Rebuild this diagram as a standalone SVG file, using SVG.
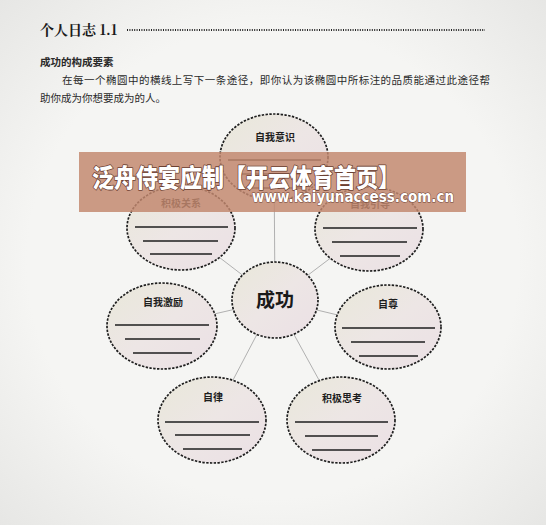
<svg xmlns="http://www.w3.org/2000/svg" width="546" height="525" viewBox="0 0 546 525">
<defs>
<linearGradient id="fillG" x1="0" y1="0" x2="1" y2="1">
<stop offset="0" stop-color="#e9e8da"/>
<stop offset="0.5" stop-color="#ede6e5"/>
<stop offset="1" stop-color="#ebe0e5"/>
</linearGradient>
<radialGradient id="bg" cx="0.5" cy="0.5" r="0.75">
<stop offset="0.6" stop-color="#f5f5f3"/>
<stop offset="1" stop-color="#e4e4e2"/>
</radialGradient>
</defs>
<style>
.ell{fill:url(#fillG);stroke:#1e1e1e;stroke-width:1.7;stroke-dasharray:2.4 1.4}
.wl{stroke:#1e1e1e;stroke-width:1.5}
.lab{font-family:"Noto Sans CJK SC","Noto Sans",sans-serif;font-size:10px;font-weight:bold;fill:#1e1e1e;text-anchor:middle}
.body{font-family:"Noto Sans CJK SC","Noto Sans",sans-serif;font-size:10.5px;fill:#2a2a2a}
.conn{stroke:#a8a8a8;stroke-width:0.9;fill:none}
.ban{fill:#ffffff;stroke:#6b4032;paint-order:stroke;stroke-linejoin:round}
</style>
<rect width="546" height="525" fill="url(#bg)"/>
<g id="header">
<text x="40" y="35" font-family="'Noto Serif CJK SC','Liberation Serif','Noto Sans CJK SC',serif" font-size="14" font-weight="bold" fill="#1a1a1a">个人日志 1.1</text>
<line x1="127" y1="30" x2="485" y2="30" stroke="#222" stroke-width="2" stroke-dasharray="1 1.4"/>
<text x="40" y="66" class="body" font-weight="bold" fill="#1a1a1a">成功的构成要素</text>
<text x="62" y="84" class="body" textLength="428" lengthAdjust="spacing">在每一个椭圆中的横线上写下一条途径，即你认为该椭圆中所标注的品质能通过此途径帮</text>
<text x="40" y="102" class="body">助你成为你想要成为的人。</text>
</g>
<g id="connectors">
<line class="conn" x1="275" y1="300" x2="274" y2="157"/>
<line class="conn" x1="275" y1="300" x2="181" y2="228"/>
<line class="conn" x1="275" y1="300" x2="369" y2="229"/>
<line class="conn" x1="275" y1="300" x2="162" y2="326"/>
<line class="conn" x1="275" y1="300" x2="388" y2="327"/>
<line class="conn" x1="275" y1="300" x2="212" y2="420"/>
<line class="conn" x1="275" y1="300" x2="341" y2="420"/>
</g>
<g id="n-ziwoyishi">
<ellipse class="ell" cx="274" cy="157" rx="54" ry="43"/>
<text class="lab" x="275" y="141">自我意识</text>
<line class="wl" x1="228" y1="160" x2="321" y2="160"/>
<line class="wl" x1="238" y1="174" x2="311" y2="174"/>
<line class="wl" x1="245" y1="188" x2="304" y2="188"/>
</g>
<g id="n-jijiguanxi">
<ellipse class="ell" cx="181" cy="228" rx="54" ry="42"/>
<text class="lab" x="181" y="207">积极关系</text>
<line class="wl" x1="135" y1="227" x2="228" y2="227"/>
<line class="wl" x1="143" y1="241" x2="218" y2="241"/>
<line class="wl" x1="150" y1="254" x2="212" y2="254"/>
</g>
<g id="n-ziwoyindao">
<ellipse class="ell" cx="369" cy="229" rx="54" ry="42"/>
<text class="lab" x="370" y="208">自我引导</text>
<line class="wl" x1="323" y1="228" x2="417" y2="228"/>
<line class="wl" x1="332" y1="242" x2="407" y2="242"/>
<line class="wl" x1="340" y1="256" x2="400" y2="256"/>
</g>
<g id="n-chenggong">
<ellipse class="ell" cx="275" cy="300" rx="43" ry="38"/>
<text x="275" y="307" text-anchor="middle" font-family="'Noto Sans CJK SC',sans-serif" font-size="19" font-weight="bold" fill="#1a1a1a">成功</text>
</g>
<g id="n-ziwojili">
<ellipse class="ell" cx="162" cy="326" rx="55" ry="43"/>
<text class="lab" x="163" y="306">自我激励</text>
<line class="wl" x1="115" y1="325" x2="209" y2="325"/>
<line class="wl" x1="125" y1="339" x2="200" y2="339"/>
<line class="wl" x1="133" y1="353" x2="192" y2="353"/>
</g>
<g id="n-zizun">
<ellipse class="ell" cx="388" cy="327" rx="53" ry="42"/>
<text class="lab" x="388" y="308">自尊</text>
<line class="wl" x1="342" y1="328" x2="435" y2="328"/>
<line class="wl" x1="351" y1="342" x2="425" y2="342"/>
<line class="wl" x1="359" y1="356" x2="418" y2="356"/>
</g>
<g id="n-zilv">
<ellipse class="ell" cx="212" cy="420" rx="54" ry="43"/>
<text class="lab" x="213" y="401">自律</text>
<line class="wl" x1="165" y1="422" x2="259" y2="422"/>
<line class="wl" x1="175" y1="435" x2="250" y2="435"/>
<line class="wl" x1="183" y1="449" x2="242" y2="449"/>
</g>
<g id="n-jijisikao">
<ellipse class="ell" cx="341" cy="420" rx="54" ry="43"/>
<text class="lab" x="342" y="402">积极思考</text>
<line class="wl" x1="295" y1="422" x2="388" y2="422"/>
<line class="wl" x1="305" y1="436" x2="378" y2="436"/>
<line class="wl" x1="312" y1="450" x2="371" y2="450"/>
</g>
<g id="banner">
<rect x="79" y="152" width="387" height="60" fill="#c2886f" fill-opacity="0.84"/>
<text class="ban" x="92" y="187" font-family="'Noto Sans CJK SC',sans-serif" font-size="25" font-weight="900" stroke-width="1.6" textLength="308" lengthAdjust="spacingAndGlyphs">泛舟侍宴应制【开云体育首页】</text>
<text class="ban" x="252" y="202" font-family="'DejaVu Sans',sans-serif" font-size="15" font-weight="bold" stroke-width="1" textLength="202" lengthAdjust="spacingAndGlyphs">www.kaiyunaccess.com.cn</text>
</g>
</svg>
